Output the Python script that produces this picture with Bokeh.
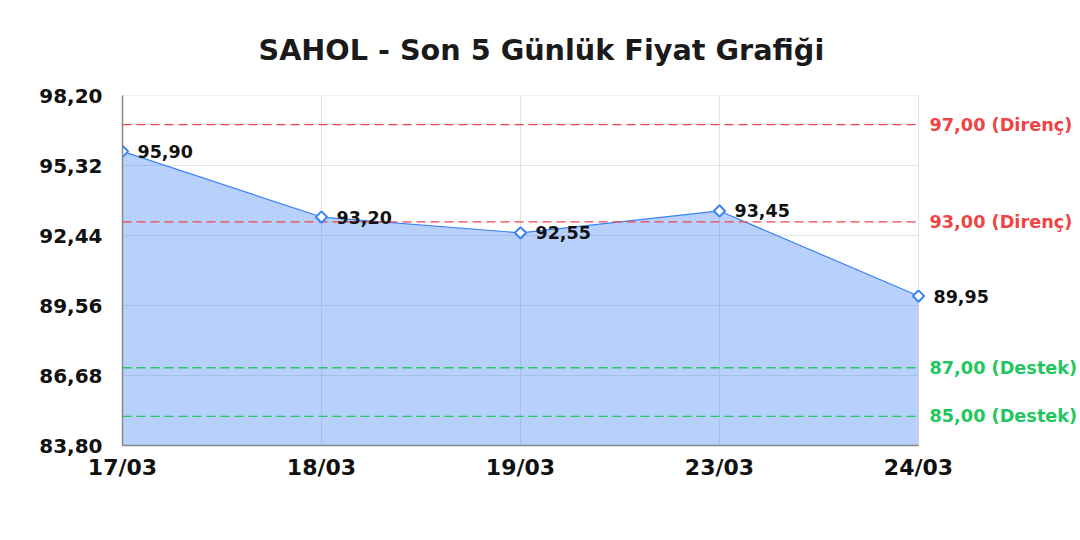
from bokeh.plotting import figure
from bokeh.models import ColumnDataSource, FixedTicker
from bokeh.core.properties import value
from bokeh.embed import file_html
from bokeh.resources import INLINE

# data
dates = ["17/03", "18/03", "19/03", "23/03", "24/03"]
prices = [95.90, 93.20, 92.55, 93.45, 89.95]
y_ticks = [83.80, 86.68, 89.56, 92.44, 95.32, 98.20]
resistance = [97.00, 93.00]
support = [87.00, 85.00]

FONT = "DejaVu Sans"
BLUE = "#3b82f6"
RED = "#ef4444"
GREEN = "#22c55e"


def tr(v):
    return f"{v:.2f}".replace(".", ",")


xs = list(range(len(dates)))
last = xs[-1]
src = ColumnDataSource(dict(
    x=xs, y=prices, base=[y_ticks[0]] * len(xs),
    label=[tr(v) for v in prices],
))

W, H = 1080, 540
left, top, right_edge, bottom = 122, 95, 918, 445
# plot area runs to the right edge so the level labels fit; data stops at x=last
px_per_x = (right_edge - left) / last
x_end = last + (W - right_edge) / px_per_x

p = figure(width=W, height=H, output_backend="svg", toolbar_location=None,
           x_range=(0, x_end), y_range=(y_ticks[0], y_ticks[-1]),
           min_border_left=left, min_border_right=0,
           min_border_top=top, min_border_bottom=H - bottom)

p.title.text = "SAHOL - Son 5 Günlük Fiyat Grafiği"
p.title.align = "left"
p.title.offset = 136
p.title.standoff = 58
p.title.text_font = FONT
p.title.text_font_size = "28.7px"
p.title.text_font_style = "bold"
p.title.text_color = "#1a1a1a"
p.outline_line_color = None

# horizontal grid lines only across the data area
p.segment(x0=[0] * len(y_ticks), x1=[last] * len(y_ticks), y0=y_ticks, y1=y_ticks,
          line_color="#e3e3e3", line_width=1, level="underlay")

p.varea(x="x", y1="base", y2="y", source=src, fill_color=BLUE, fill_alpha=0.37)
p.line(x="x", y="y", source=src, line_color=BLUE, line_width=1.2)

levels = resistance + support
colors = [RED] * len(resistance) + [GREEN] * len(support)
names = ["Direnç"] * len(resistance) + ["Destek"] * len(support)
p.segment(x0=[0] * len(levels), x1=[last] * len(levels), y0=levels, y1=levels,
          line_color=colors, line_dash="9 5", line_width=1.4)
p.text(x=[last] * len(levels), y=levels, text=[f"{tr(v)} ({n})" for v, n in zip(levels, names)],
       x_offset=11, text_color=colors, text_font=value(FONT), text_font_size="17.7px",
       text_font_style="bold", text_baseline="middle")

p.scatter(x="x", y="y", source=src, marker="square", angle=0.785398, size=8,
          fill_color="white", line_color=BLUE, line_width=2)
p.text(x="x", y="y", text="label", source=src, x_offset=15, y_offset=0,
       text_font=value(FONT), text_font_size="17.5px", text_font_style="bold",
       text_color="#111111", text_baseline="middle")

p.xaxis.ticker = FixedTicker(ticks=xs)
p.xaxis.major_label_overrides = {i: d for i, d in zip(xs, dates)}
p.xaxis.bounds = (0, last)
p.yaxis.ticker = FixedTicker(ticks=y_ticks)
p.yaxis.major_label_overrides = {v: tr(v) for v in y_ticks}

for ax in (p.xaxis, p.yaxis):
    ax.axis_line_color = "#888888"
    ax.axis_line_width = 1.5
    ax.major_tick_line_color = None
    ax.minor_tick_line_color = None
    ax.major_label_text_font = FONT
    ax.major_label_text_font_style = "bold"
    ax.major_label_text_color = "#111111"
p.xaxis.major_label_text_font_size = "22px"
p.yaxis.major_label_text_font_size = "20px"
p.xaxis.major_label_standoff = 3
p.yaxis.major_label_standoff = 14

p.xgrid.grid_line_color = "#e3e3e3"
p.ygrid.grid_line_color = None

open("out.html", "w").write(file_html(p, INLINE))
